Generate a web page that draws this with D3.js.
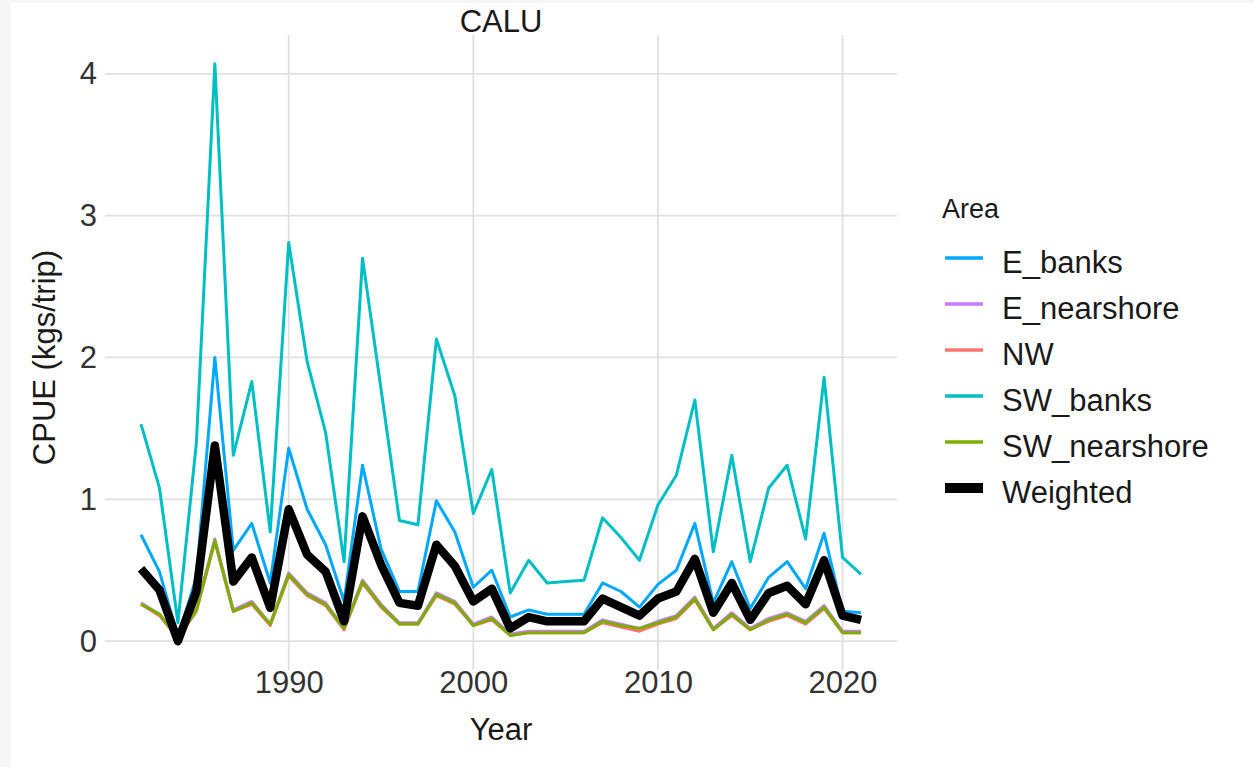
<!DOCTYPE html>
<html>
<head>
<meta charset="utf-8">
<script src="https://cdn.jsdelivr.net/npm/d3@7"></script>
<style>
  html, body { margin: 0; padding: 0; background: #f6f6f6; }
  svg { display: block; font-family: "Liberation Sans", Arial, sans-serif; }
</style>
</head>
<body>
<script>
// CPUE by area, 1982-2021
const years = d3.range(1982, 2022);
const areas = ["E_banks", "E_nearshore", "NW", "SW_banks", "SW_nearshore", "Weighted"];
const colors = ["#00A9FF", "#C77CFF", "#F8766D", "#00BFC4", "#7CAE00", "#000000"];

const E_banks = [0.75, 0.49, 0.03, 0.45, 2.00, 0.64, 0.83, 0.41, 1.36, 0.93,
  0.68, 0.28, 1.24, 0.65, 0.35, 0.35, 0.99, 0.77, 0.38, 0.50,
  0.17, 0.22, 0.19, 0.19, 0.19, 0.41, 0.35, 0.24, 0.40, 0.50,
  0.83, 0.27, 0.56, 0.23, 0.45, 0.56, 0.37, 0.76, 0.21, 0.20];
const E_nearshore = [0.27, 0.19, 0.02, 0.23, 0.72, 0.22, 0.28, 0.12, 0.48, 0.34,
  0.27, 0.09, 0.43, 0.26, 0.13, 0.13, 0.34, 0.28, 0.12, 0.17,
  0.05, 0.07, 0.07, 0.07, 0.07, 0.15, 0.12, 0.09, 0.14, 0.18,
  0.31, 0.09, 0.20, 0.09, 0.16, 0.20, 0.14, 0.25, 0.07, 0.07];
const NW = [0.26, 0.18, 0.02, 0.21, 0.70, 0.21, 0.26, 0.11, 0.46, 0.32,
  0.25, 0.08, 0.41, 0.24, 0.12, 0.12, 0.32, 0.26, 0.11, 0.15,
  0.04, 0.06, 0.06, 0.06, 0.06, 0.13, 0.10, 0.07, 0.12, 0.16,
  0.29, 0.08, 0.18, 0.08, 0.14, 0.18, 0.12, 0.23, 0.06, 0.06];
const SW_banks = [1.53, 1.08, 0.13, 1.40, 4.07, 1.31, 1.83, 0.77, 2.81, 1.97,
  1.47, 0.56, 2.70, 1.78, 0.85, 0.82, 2.13, 1.73, 0.90, 1.21,
  0.34, 0.57, 0.41, 0.42, 0.43, 0.87, 0.73, 0.57, 0.96, 1.17,
  1.70, 0.63, 1.31, 0.56, 1.08, 1.24, 0.72, 1.86, 0.59, 0.47];
const SW_nearshore = [0.26, 0.19, 0.02, 0.22, 0.71, 0.21, 0.27, 0.12, 0.47, 0.33,
  0.26, 0.09, 0.42, 0.25, 0.12, 0.12, 0.33, 0.27, 0.11, 0.16,
  0.04, 0.06, 0.06, 0.06, 0.06, 0.14, 0.11, 0.09, 0.13, 0.17,
  0.30, 0.08, 0.19, 0.08, 0.15, 0.19, 0.13, 0.24, 0.06, 0.06];
const Weighted = [0.51, 0.36, 0.00, 0.35, 1.38, 0.42, 0.59, 0.235, 0.93, 0.61,
  0.49, 0.14, 0.88, 0.54, 0.27, 0.25, 0.68, 0.53, 0.28, 0.37,
  0.09, 0.17, 0.14, 0.14, 0.14, 0.30, 0.24, 0.18, 0.30, 0.35,
  0.58, 0.20, 0.41, 0.15, 0.34, 0.39, 0.26, 0.57, 0.18, 0.15];

const xTicks = [1990, 2000, 2010, 2020];
const yTicks = [0, 1, 2, 3, 4];

const seriesValues = [E_banks, E_nearshore, NW, SW_banks, SW_nearshore, Weighted];
const series = areas.map((name, i) => ({
  name, color: colors[i],
  values: years.map((yr, j) => ({ year: yr, v: seriesValues[i][j] }))
}));

const W = 1254, H = 767;
const panel = { left: 105, right: 897, top: 35, bottom: 670 };
const FONT = 31;

// ggplot-style 5% expansion of the data range
function expand([a, b]) { const r = b - a; return [a - 0.05 * r, b + 0.05 * r]; }
const allV = seriesValues.flat();

const x = d3.scaleLinear().domain(expand(d3.extent(years))).range([panel.left, panel.right]);
const y = d3.scaleLinear().domain(expand(d3.extent(allV))).range([panel.bottom, panel.top]);

const svg = d3.select("body").append("svg").attr("width", W).attr("height", H);
svg.append("rect").attr("x", 11).attr("y", 3).attr("width", W - 11).attr("height", H - 3).attr("fill", "#ffffff");

// grid
const grid = svg.append("g").attr("stroke", "#e0e0e0").attr("stroke-width", 1.8);
grid.selectAll("line.h").data(yTicks).join("line")
  .attr("x1", panel.left).attr("x2", panel.right)
  .attr("y1", d => y(d)).attr("y2", d => y(d));
grid.selectAll("line.v").data(xTicks).join("line")
  .attr("y1", panel.top).attr("y2", panel.bottom)
  .attr("x1", d => x(d)).attr("x2", d => x(d));

// axes (labels only, as in a minimal theme)
const xAxis = svg.append("g").attr("transform", `translate(0,${panel.bottom + 1})`)
  .call(d3.axisBottom(x).tickValues(xTicks).tickFormat(d3.format("d")).tickSize(0).tickPadding(0));
xAxis.select(".domain").remove();
xAxis.selectAll("text").attr("font-size", FONT).attr("fill", "#333").attr("dy", "0.71em")
  .attr("font-family", "Liberation Sans, Arial, sans-serif");

const yAxis = svg.append("g").attr("transform", `translate(${panel.left - 8},0)`)
  .call(d3.axisLeft(y).tickValues(yTicks).tickFormat(d3.format("d")).tickSize(0).tickPadding(0));
yAxis.select(".domain").remove();
yAxis.selectAll("text").attr("font-size", FONT).attr("fill", "#333")
  .attr("font-family", "Liberation Sans, Arial, sans-serif");

// lines
const line = d3.line().x(d => x(d.year)).y(d => y(d.v));
svg.append("g").selectAll("path").data(series).join("path")
  .attr("d", d => line(d.values))
  .attr("fill", "none")
  .attr("stroke", d => d.color)
  .attr("stroke-width", d => d.name === "Weighted" ? 8.5 : 3)
  .attr("stroke-linejoin", "round");

// titles
svg.append("text").attr("x", (panel.left + panel.right) / 2).attr("y", 32)
  .attr("text-anchor", "middle").attr("font-size", FONT).attr("fill", "#1a1a1a").text("CALU");
svg.append("text").attr("x", (panel.left + panel.right) / 2).attr("y", 740)
  .attr("text-anchor", "middle").attr("font-size", FONT).attr("fill", "#1a1a1a").text("Year");
svg.append("text").attr("transform", `translate(55,${(panel.top + panel.bottom) / 2 + 5}) rotate(-90)`)
  .attr("text-anchor", "middle").attr("font-size", FONT).attr("fill", "#1a1a1a").text("CPUE (kgs/trip)");

// legend
const lg = svg.append("g").attr("transform", "translate(942,0)");
lg.append("text").attr("x", 0).attr("y", 218).attr("font-size", 27).attr("fill", "#1a1a1a").text("Area");
const rows = lg.selectAll("g.row").data(series).join("g")
  .attr("transform", (d, i) => `translate(0,${258 + i * 46})`);
rows.append("line").attr("x1", 3).attr("x2", 41).attr("y1", 0).attr("y2", 0)
  .attr("stroke", d => d.color).attr("stroke-width", d => d.name === "Weighted" ? 10 : 3.5);
rows.append("text").attr("x", 60).attr("y", 15).attr("font-size", FONT).attr("fill", "#1a1a1a").text(d => d.name);
</script>
</body>
</html>
